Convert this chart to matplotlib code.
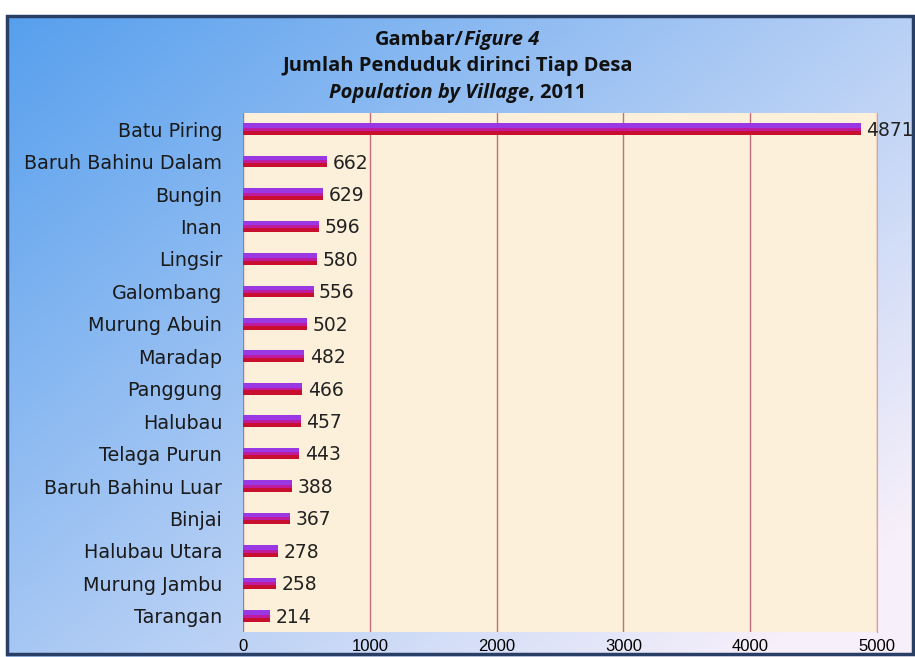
import numpy as np
import matplotlib
matplotlib.use("Agg")
import matplotlib.pyplot as plt
from matplotlib.patches import Rectangle

villages = ["Batu Piring", "Baruh Bahinu Dalam", "Bungin", "Inan", "Lingsir",
            "Galombang", "Murung Abuin", "Maradap", "Panggung", "Halubau",
            "Telaga Purun", "Baruh Bahinu Luar", "Binjai", "Halubau Utara",
            "Murung Jambu", "Tarangan"]
population = [4871, 662, 629, 596, 580, 556, 502, 482, 466, 457, 443, 388,
              367, 278, 258, 214]
xticks = [0, 1000, 2000, 3000, 4000, 5000]

W, H = 915, 657
fig = plt.figure(figsize=(W / 100, H / 100), dpi=100)

# blue gradient background
bg = fig.add_axes([0, 0, 1, 1], zorder=-10)
bg.set_axis_off()
g = np.linspace(0, 1, 256)
gx, gy = np.meshgrid(g, g)
t = np.clip(0.6 * gx + 0.5 * gy, 0, 1)
c0 = np.array([0.33, 0.62, 0.93])
c1 = np.array([0.97, 0.94, 0.98])
img = c0[None, None, :] * (1 - t[..., None]) + c1[None, None, :] * t[..., None]
bg.imshow(img, aspect="auto", extent=[0, 1, 0, 1], origin="upper")
bg.set_xlim(0, 1)
bg.set_ylim(0, 1)
bg.add_patch(Rectangle((0.0, 0.975), 1, 0.025, color="white"))
bg.add_patch(Rectangle((0.0, 0.0), 0.006, 1, color="white"))
bg.add_patch(Rectangle((0.008, 0.004), 0.99, 0.971, fill=False,
                       edgecolor="#2a3f66", lw=2.5))

ax = fig.add_axes([243 / W, 1 - 632 / H, (877 - 243) / W, (632 - 113) / H])
ax.set_facecolor("#fcf0da")
y = np.arange(len(villages))
h = 0.36
# three bands to fake the gradient fill of the bars
ax.barh(y - h / 2, population, height=h * 0.4, align="edge",
        color="#9a38e4", zorder=3)
ax.barh(y - h / 2 + h * 0.4, population, height=h * 0.25, align="edge",
        color="#c01b9c", zorder=3)
ax.barh(y - h / 2 + h * 0.65, population, height=h * 0.35, align="edge",
        color="#c8102e", zorder=3)
for yi, v in zip(y, population):
    ax.annotate(str(v), (v, yi), xytext=(4, -1), textcoords="offset points",
                va="center", ha="left", fontsize=13.5, family="DejaVu Sans",
                color="#222222", zorder=4, annotation_clip=False)

ax.set_xlim(0, 5000)
ax.set_ylim(len(villages) - 0.5, -0.5)
ax.set_xticks(xticks)
ax.set_xticklabels([str(v) for v in xticks], family="Liberation Sans",
                   fontsize=12)
ax.set_yticks(y)
ax.set_yticklabels(villages, family="DejaVu Sans", fontsize=13.8,
                   color="#1a1a1a")
ax.tick_params(length=0, pad=15)
ax.tick_params(axis="x", pad=5)
ax.grid(axis="x", color="#c0707a", lw=1)
ax.set_axisbelow(True)
for s in ax.spines.values():
    s.set_visible(False)
ax.spines["right"].set_visible(True)
ax.spines["right"].set_color("#d9a0a0")

# title with mixed italic parts
fig.canvas.draw()
r = fig.canvas.get_renderer()


def mixed_line(parts, yc):
    objs = []
    for txt, style in parts:
        objs.append(fig.text(0, yc, txt, fontsize=14.5, fontweight="bold",
                             style=style, family="Open Sans", va="center",
                             color="#111111"))
    widths = [o.get_window_extent(r).width for o in objs]
    x = (W * 0.5 - sum(widths) / 2)
    for o, w in zip(objs, widths):
        o.set_x(x / W)
        x += w


mixed_line([("Gambar/", "normal"), ("Figure 4", "italic")], 1 - 40 / H)
mixed_line([("Jumlah Penduduk dirinci Tiap Desa", "normal")], 1 - 66 / H)
mixed_line([("Population by Village", "italic"), (", 2011", "normal")],
           1 - 93 / H)

fig.savefig("out.png", dpi=100)
